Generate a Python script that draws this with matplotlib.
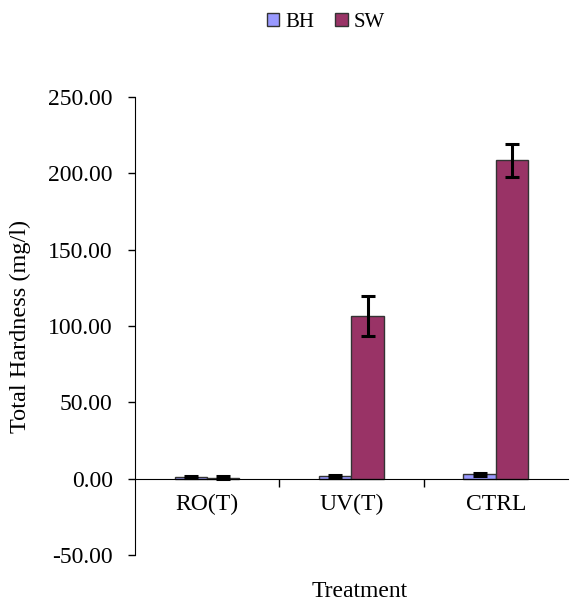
import numpy as np
import matplotlib.pyplot as plt

plt.rcParams["font.family"] = ["Liberation Serif", "DejaVu Serif"]

treatments = ["RO(T)", "UV(T)", "CTRL"]
bh_values = [1.2, 1.8, 3.0]
bh_errors = [0.8, 0.8, 1.0]
sw_values = [0.7, 106.5, 208.5]
sw_errors = [0.8, 13.0, 11.0]

bh_color = "#9999FF"
sw_color = "#993366"

fig = plt.figure(figsize=(5.72, 6.01), dpi=100)
ax = fig.add_axes([0.236, 0.0765, 0.757, 0.762])

x = np.arange(len(treatments))
width = 0.224
err_kw = dict(ecolor="black", elinewidth=2.2, capsize=5, capthick=2.2)
ax.bar(x - width / 2, bh_values, width, yerr=bh_errors, color=bh_color,
       edgecolor="#333333", linewidth=1, label="BH", error_kw=err_kw)
ax.bar(x + width / 2, sw_values, width, yerr=sw_errors, color=sw_color,
       edgecolor="#333333", linewidth=1, label="SW", error_kw=err_kw)

ax.set_xlim(-0.5, len(treatments) - 0.5)
ax.set_ylim(-50, 250)
yticks = np.arange(-50, 251, 50)
ax.set_yticks(yticks)
ax.set_yticklabels([f"{v:.2f}" for v in yticks])
ax.tick_params(axis="y", direction="out", length=5, width=1, pad=11, labelsize=17)

ax.set_xticks(x)
ax.set_xticklabels(treatments)
ax.set_xticks(np.arange(0.5, len(treatments) - 0.5, 1), minor=True)
ax.tick_params(axis="x", which="major", length=0, pad=11, labelsize=17)
ax.tick_params(axis="x", which="minor", direction="out", length=6, width=1)

ax.spines["bottom"].set_position(("data", 0))
ax.spines["top"].set_visible(False)
ax.spines["right"].set_visible(False)

fig.text(0.035, 0.457, "Total Hardness (mg/l)", rotation=90, ha="center",
         va="center", fontsize=17.5)
fig.text(0.629, 0.006, "Treatment", ha="center", va="baseline", fontsize=17)

fig.legend(loc="center", bbox_to_anchor=(0.57, 0.963), ncol=2, frameon=False,
           fontsize=15, handlelength=0.6, handleheight=0.6, handletextpad=0.3,
           columnspacing=1.0, borderaxespad=0)

fig.savefig("out.png", dpi=100)
